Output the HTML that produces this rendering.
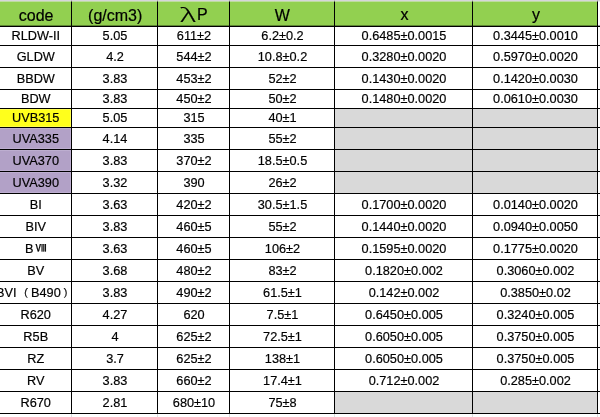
<!DOCTYPE html>
<html lang="en"><head><meta charset="utf-8"><title>table</title>
<style>
html,body{margin:0;padding:0;background:#fff;}
body{width:600px;height:417px;overflow:hidden;position:relative;font-family:"Liberation Sans","Noto Sans CJK SC",sans-serif;color:#000;}
svg{position:absolute;left:0;top:0;display:block;}
.t{position:absolute;text-align:center;white-space:nowrap;font-size:13.7px;overflow:visible;transform:scaleX(0.93);transform-origin:50% 50%;margin-top:-0.1px;-webkit-text-stroke:0.2px #000;}
.h{font-size:16px;transform:none;margin-top:1.2px;margin-left:0.4px;}
.cj{font-family:"IPAGothic","Noto Sans CJK SC",sans-serif;}
</style></head><body>
<svg width="600" height="417" viewBox="0 0 600 417">
<rect x="0" y="0" width="600" height="1.50" fill="#d6d6da"/>
<rect x="0" y="1.50" width="597.50" height="25.00" fill="#92d050"/>
<rect x="0.00" y="108.50" width="71.50" height="19.00" fill="#ffff1c"/>
<rect x="-1.00" y="109.50" width="71.50" height="17.00" fill="none" stroke="#ffff6a" stroke-width="1" stroke-opacity="0.6"/>
<rect x="0.00" y="127.50" width="71.50" height="22.00" fill="#b2a1c7"/>
<rect x="-1.00" y="128.50" width="71.50" height="20.00" fill="none" stroke="#c4b8d6" stroke-width="1" stroke-opacity="0.6"/>
<rect x="0.00" y="149.50" width="71.50" height="22.00" fill="#b2a1c7"/>
<rect x="-1.00" y="150.50" width="71.50" height="20.00" fill="none" stroke="#c4b8d6" stroke-width="1" stroke-opacity="0.6"/>
<rect x="0.00" y="171.50" width="71.50" height="22.00" fill="#b2a1c7"/>
<rect x="-1.00" y="172.50" width="71.50" height="20.00" fill="none" stroke="#c4b8d6" stroke-width="1" stroke-opacity="0.6"/>
<rect x="334.50" y="108.50" width="138.00" height="19.00" fill="#d9d9d9"/>
<rect x="472.50" y="108.50" width="125.00" height="19.00" fill="#d9d9d9"/>
<rect x="334.50" y="127.50" width="138.00" height="22.00" fill="#d9d9d9"/>
<rect x="472.50" y="127.50" width="125.00" height="22.00" fill="#d9d9d9"/>
<rect x="334.50" y="149.50" width="138.00" height="22.00" fill="#d9d9d9"/>
<rect x="472.50" y="149.50" width="125.00" height="22.00" fill="#d9d9d9"/>
<rect x="334.50" y="171.50" width="138.00" height="22.00" fill="#d9d9d9"/>
<rect x="472.50" y="171.50" width="125.00" height="22.00" fill="#d9d9d9"/>
<rect x="334.50" y="391.50" width="138.00" height="22.00" fill="#d9d9d9"/>
<rect x="472.50" y="391.50" width="125.00" height="22.00" fill="#d9d9d9"/>
<line x1="71.50" y1="0" x2="71.50" y2="1.50" stroke="#b8b8b8" stroke-width="1"/>
<line x1="71.50" y1="413.50" x2="71.50" y2="417" stroke="#dcdcdc" stroke-width="1"/>
<line x1="157.50" y1="0" x2="157.50" y2="1.50" stroke="#b8b8b8" stroke-width="1"/>
<line x1="157.50" y1="413.50" x2="157.50" y2="417" stroke="#dcdcdc" stroke-width="1"/>
<line x1="229.50" y1="0" x2="229.50" y2="1.50" stroke="#b8b8b8" stroke-width="1"/>
<line x1="229.50" y1="413.50" x2="229.50" y2="417" stroke="#dcdcdc" stroke-width="1"/>
<line x1="334.50" y1="0" x2="334.50" y2="1.50" stroke="#b8b8b8" stroke-width="1"/>
<line x1="334.50" y1="413.50" x2="334.50" y2="417" stroke="#dcdcdc" stroke-width="1"/>
<line x1="472.50" y1="0" x2="472.50" y2="1.50" stroke="#b8b8b8" stroke-width="1"/>
<line x1="472.50" y1="413.50" x2="472.50" y2="417" stroke="#dcdcdc" stroke-width="1"/>
<line x1="597.50" y1="0" x2="597.50" y2="1.50" stroke="#b8b8b8" stroke-width="1"/>
<line x1="597.50" y1="413.50" x2="597.50" y2="417" stroke="#dcdcdc" stroke-width="1"/>
<rect x="0" y="25.65" width="600" height="0.5" fill="#000"/>
<line x1="0" y1="26.50" x2="600" y2="26.50" stroke="#000" stroke-width="1.00"/>
<line x1="0" y1="45.50" x2="600" y2="45.50" stroke="#000" stroke-width="1.00"/>
<line x1="0" y1="67.50" x2="600" y2="67.50" stroke="#000" stroke-width="1.00"/>
<line x1="0" y1="89.50" x2="600" y2="89.50" stroke="#000" stroke-width="1.00"/>
<line x1="0" y1="108.50" x2="600" y2="108.50" stroke="#000" stroke-width="1.00"/>
<line x1="0" y1="127.50" x2="600" y2="127.50" stroke="#000" stroke-width="1.00"/>
<line x1="0" y1="149.50" x2="600" y2="149.50" stroke="#000" stroke-width="1.00"/>
<line x1="0" y1="171.50" x2="600" y2="171.50" stroke="#000" stroke-width="1.00"/>
<line x1="0" y1="193.50" x2="600" y2="193.50" stroke="#000" stroke-width="1.00"/>
<line x1="0" y1="215.50" x2="600" y2="215.50" stroke="#000" stroke-width="1.00"/>
<line x1="0" y1="237.50" x2="600" y2="237.50" stroke="#000" stroke-width="1.00"/>
<line x1="0" y1="259.50" x2="600" y2="259.50" stroke="#000" stroke-width="1.00"/>
<line x1="0" y1="281.50" x2="600" y2="281.50" stroke="#000" stroke-width="1.00"/>
<line x1="0" y1="303.50" x2="600" y2="303.50" stroke="#000" stroke-width="1.00"/>
<line x1="0" y1="325.50" x2="600" y2="325.50" stroke="#000" stroke-width="1.00"/>
<line x1="0" y1="347.50" x2="600" y2="347.50" stroke="#000" stroke-width="1.00"/>
<line x1="0" y1="369.50" x2="600" y2="369.50" stroke="#000" stroke-width="1.00"/>
<line x1="0" y1="391.50" x2="600" y2="391.50" stroke="#000" stroke-width="1.00"/>
<line x1="0" y1="413.50" x2="600" y2="413.50" stroke="#000" stroke-width="1.00"/>
<line x1="71.50" y1="1.50" x2="71.50" y2="413.50" stroke="#000" stroke-width="1.00"/>
<line x1="157.50" y1="1.50" x2="157.50" y2="413.50" stroke="#000" stroke-width="1.00"/>
<line x1="229.50" y1="1.50" x2="229.50" y2="413.50" stroke="#000" stroke-width="1.00"/>
<line x1="334.50" y1="1.50" x2="334.50" y2="413.50" stroke="#000" stroke-width="1.00"/>
<line x1="472.50" y1="1.50" x2="472.50" y2="413.50" stroke="#000" stroke-width="1.00"/>
<line x1="597.50" y1="1.50" x2="597.50" y2="413.50" stroke="#000" stroke-width="1.00"/>
</svg>
<div class="t h" style="left:0.00px;top:1.50px;width:71.50px;height:25.00px;line-height:25.00px">code</div>
<div class="t h" style="left:71.80px;top:1.50px;width:86.00px;height:25.00px;line-height:25.00px">(g/cm3)</div>
<div class="t h" style="left:179.40px;top:0.20px;height:25.00px;line-height:25.00px;font-size:19.00px;text-align:left;transform:scaleX(1.600);transform-origin:0 50%;font-family:'Noto Sans CJK SC','IPAGothic',sans-serif;font-weight:300">λ</div>
<div class="t h" style="left:196.50px;top:1.10px;height:25.00px;line-height:25.00px;font-size:16.00px;text-align:left;transform:scaleX(1.000);transform-origin:0 50%;">P</div>
<div class="t h" style="left:229.50px;top:1.50px;width:105.00px;height:25.00px;line-height:25.00px">W</div>
<div class="t h" style="left:335.00px;top:1.10px;width:138.00px;height:25.00px;line-height:25.00px">x</div>
<div class="t h" style="left:473.20px;top:1.10px;width:125.00px;height:25.00px;line-height:25.00px">y</div>
<div class="t" style="left:0.00px;top:26.50px;width:71.50px;height:19.00px;line-height:19.00px">RLDW-II</div>
<div class="t" style="left:71.50px;top:26.50px;width:86.00px;height:19.00px;line-height:19.00px">5.05</div>
<div class="t" style="left:157.50px;top:26.50px;width:72.00px;height:19.00px;line-height:19.00px">611±2</div>
<div class="t" style="left:229.50px;top:26.50px;width:105.00px;height:19.00px;line-height:19.00px">6.2±0.2</div>
<div class="t" style="left:334.50px;top:26.50px;width:138.00px;height:19.00px;line-height:19.00px">0.6485±0.0015</div>
<div class="t" style="left:472.50px;top:26.50px;width:125.00px;height:19.00px;line-height:19.00px">0.3445±0.0010</div>
<div class="t" style="left:0.00px;top:45.90px;width:71.50px;height:22.00px;line-height:22.00px">GLDW</div>
<div class="t" style="left:71.50px;top:45.90px;width:86.00px;height:22.00px;line-height:22.00px">4.2</div>
<div class="t" style="left:157.50px;top:45.90px;width:72.00px;height:22.00px;line-height:22.00px">544±2</div>
<div class="t" style="left:229.50px;top:45.90px;width:105.00px;height:22.00px;line-height:22.00px">10.8±0.2</div>
<div class="t" style="left:334.50px;top:45.90px;width:138.00px;height:22.00px;line-height:22.00px">0.3280±0.0020</div>
<div class="t" style="left:472.50px;top:45.90px;width:125.00px;height:22.00px;line-height:22.00px">0.5970±0.0020</div>
<div class="t" style="left:0.00px;top:67.90px;width:71.50px;height:22.00px;line-height:22.00px">BBDW</div>
<div class="t" style="left:71.50px;top:67.90px;width:86.00px;height:22.00px;line-height:22.00px">3.83</div>
<div class="t" style="left:157.50px;top:67.90px;width:72.00px;height:22.00px;line-height:22.00px">453±2</div>
<div class="t" style="left:229.50px;top:67.90px;width:105.00px;height:22.00px;line-height:22.00px">52±2</div>
<div class="t" style="left:334.50px;top:67.90px;width:138.00px;height:22.00px;line-height:22.00px">0.1430±0.0020</div>
<div class="t" style="left:472.50px;top:67.90px;width:125.00px;height:22.00px;line-height:22.00px">0.1420±0.0030</div>
<div class="t" style="left:0.00px;top:89.50px;width:71.50px;height:19.00px;line-height:19.00px">BDW</div>
<div class="t" style="left:71.50px;top:89.50px;width:86.00px;height:19.00px;line-height:19.00px">3.83</div>
<div class="t" style="left:157.50px;top:89.50px;width:72.00px;height:19.00px;line-height:19.00px">450±2</div>
<div class="t" style="left:229.50px;top:89.50px;width:105.00px;height:19.00px;line-height:19.00px">50±2</div>
<div class="t" style="left:334.50px;top:89.50px;width:138.00px;height:19.00px;line-height:19.00px">0.1480±0.0020</div>
<div class="t" style="left:472.50px;top:89.50px;width:125.00px;height:19.00px;line-height:19.00px">0.0610±0.0030</div>
<div class="t" style="left:0.00px;top:108.50px;width:71.50px;height:19.00px;line-height:19.00px">UVB315</div>
<div class="t" style="left:71.50px;top:108.50px;width:86.00px;height:19.00px;line-height:19.00px">5.05</div>
<div class="t" style="left:157.50px;top:108.50px;width:72.00px;height:19.00px;line-height:19.00px">315</div>
<div class="t" style="left:229.50px;top:108.50px;width:105.00px;height:19.00px;line-height:19.00px">40±1</div>
<div class="t" style="left:0.00px;top:127.90px;width:71.50px;height:22.00px;line-height:22.00px">UVA335</div>
<div class="t" style="left:71.50px;top:127.90px;width:86.00px;height:22.00px;line-height:22.00px">4.14</div>
<div class="t" style="left:157.50px;top:127.90px;width:72.00px;height:22.00px;line-height:22.00px">335</div>
<div class="t" style="left:229.50px;top:127.90px;width:105.00px;height:22.00px;line-height:22.00px">55±2</div>
<div class="t" style="left:0.00px;top:149.90px;width:71.50px;height:22.00px;line-height:22.00px">UVA370</div>
<div class="t" style="left:71.50px;top:149.90px;width:86.00px;height:22.00px;line-height:22.00px">3.83</div>
<div class="t" style="left:157.50px;top:149.90px;width:72.00px;height:22.00px;line-height:22.00px">370±2</div>
<div class="t" style="left:229.50px;top:149.90px;width:105.00px;height:22.00px;line-height:22.00px">18.5±0.5</div>
<div class="t" style="left:0.00px;top:171.90px;width:71.50px;height:22.00px;line-height:22.00px">UVA390</div>
<div class="t" style="left:71.50px;top:171.90px;width:86.00px;height:22.00px;line-height:22.00px">3.32</div>
<div class="t" style="left:157.50px;top:171.90px;width:72.00px;height:22.00px;line-height:22.00px">390</div>
<div class="t" style="left:229.50px;top:171.90px;width:105.00px;height:22.00px;line-height:22.00px">26±2</div>
<div class="t" style="left:0.00px;top:193.90px;width:71.50px;height:22.00px;line-height:22.00px">BI</div>
<div class="t" style="left:71.50px;top:193.90px;width:86.00px;height:22.00px;line-height:22.00px">3.63</div>
<div class="t" style="left:157.50px;top:193.90px;width:72.00px;height:22.00px;line-height:22.00px">420±2</div>
<div class="t" style="left:229.50px;top:193.90px;width:105.00px;height:22.00px;line-height:22.00px">30.5±1.5</div>
<div class="t" style="left:334.50px;top:193.90px;width:138.00px;height:22.00px;line-height:22.00px">0.1700±0.0020</div>
<div class="t" style="left:472.50px;top:193.90px;width:125.00px;height:22.00px;line-height:22.00px">0.0140±0.0020</div>
<div class="t" style="left:0.00px;top:215.90px;width:71.50px;height:22.00px;line-height:22.00px">BIV</div>
<div class="t" style="left:71.50px;top:215.90px;width:86.00px;height:22.00px;line-height:22.00px">3.83</div>
<div class="t" style="left:157.50px;top:215.90px;width:72.00px;height:22.00px;line-height:22.00px">460±5</div>
<div class="t" style="left:229.50px;top:215.90px;width:105.00px;height:22.00px;line-height:22.00px">55±2</div>
<div class="t" style="left:334.50px;top:215.90px;width:138.00px;height:22.00px;line-height:22.00px">0.1440±0.0020</div>
<div class="t" style="left:472.50px;top:215.90px;width:125.00px;height:22.00px;line-height:22.00px">0.0940±0.0050</div>
<div class="t" style="left:25.30px;top:237.90px;height:22.00px;line-height:22.00px;font-size:13.70px;text-align:left;transform:scaleX(0.930);transform-origin:0 50%;">B</div>
<div class="t cj" style="left:34.60px;top:237.00px;height:22.00px;line-height:22.00px;font-size:10.50px;text-align:left;transform:scaleX(1.140);transform-origin:0 50%;">Ⅷ</div>
<div class="t" style="left:71.50px;top:237.90px;width:86.00px;height:22.00px;line-height:22.00px">3.63</div>
<div class="t" style="left:157.50px;top:237.90px;width:72.00px;height:22.00px;line-height:22.00px">460±5</div>
<div class="t" style="left:229.50px;top:237.90px;width:105.00px;height:22.00px;line-height:22.00px">106±2</div>
<div class="t" style="left:334.50px;top:237.90px;width:138.00px;height:22.00px;line-height:22.00px">0.1595±0.0020</div>
<div class="t" style="left:472.50px;top:237.90px;width:125.00px;height:22.00px;line-height:22.00px">0.1775±0.0020</div>
<div class="t" style="left:0.00px;top:259.90px;width:71.50px;height:22.00px;line-height:22.00px">BV</div>
<div class="t" style="left:71.50px;top:259.90px;width:86.00px;height:22.00px;line-height:22.00px">3.68</div>
<div class="t" style="left:157.50px;top:259.90px;width:72.00px;height:22.00px;line-height:22.00px">480±2</div>
<div class="t" style="left:229.50px;top:259.90px;width:105.00px;height:22.00px;line-height:22.00px">83±2</div>
<div class="t" style="left:334.50px;top:259.90px;width:138.00px;height:22.00px;line-height:22.00px">0.1820±0.002</div>
<div class="t" style="left:472.50px;top:259.90px;width:125.00px;height:22.00px;line-height:22.00px">0.3060±0.002</div>
<div class="t" style="left:-3.80px;top:281.90px;height:22.00px;line-height:22.00px;font-size:13.70px;text-align:left;transform:scaleX(0.930);transform-origin:0 50%;">BVI</div>
<div class="t cj" style="left:17.70px;top:281.90px;height:22.00px;line-height:22.00px;font-size:10.80px;text-align:left;transform:scaleX(1.000);transform-origin:0 50%;">（</div>
<div class="t" style="left:30.90px;top:281.90px;height:22.00px;line-height:22.00px;font-size:13.70px;text-align:left;transform:scaleX(0.930);transform-origin:0 50%;">B490</div>
<div class="t cj" style="left:63.00px;top:281.90px;height:22.00px;line-height:22.00px;font-size:10.80px;text-align:left;transform:scaleX(1.000);transform-origin:0 50%;">）</div>
<div class="t" style="left:71.50px;top:281.90px;width:86.00px;height:22.00px;line-height:22.00px">3.83</div>
<div class="t" style="left:157.50px;top:281.90px;width:72.00px;height:22.00px;line-height:22.00px">490±2</div>
<div class="t" style="left:229.50px;top:281.90px;width:105.00px;height:22.00px;line-height:22.00px">61.5±1</div>
<div class="t" style="left:334.50px;top:281.90px;width:138.00px;height:22.00px;line-height:22.00px">0.142±0.002</div>
<div class="t" style="left:472.50px;top:281.90px;width:125.00px;height:22.00px;line-height:22.00px">0.3850±0.02</div>
<div class="t" style="left:0.00px;top:303.90px;width:71.50px;height:22.00px;line-height:22.00px">R620</div>
<div class="t" style="left:71.50px;top:303.90px;width:86.00px;height:22.00px;line-height:22.00px">4.27</div>
<div class="t" style="left:157.50px;top:303.90px;width:72.00px;height:22.00px;line-height:22.00px">620</div>
<div class="t" style="left:229.50px;top:303.90px;width:105.00px;height:22.00px;line-height:22.00px">7.5±1</div>
<div class="t" style="left:334.50px;top:303.90px;width:138.00px;height:22.00px;line-height:22.00px">0.6450±0.005</div>
<div class="t" style="left:472.50px;top:303.90px;width:125.00px;height:22.00px;line-height:22.00px">0.3240±0.005</div>
<div class="t" style="left:0.00px;top:325.90px;width:71.50px;height:22.00px;line-height:22.00px">R5B</div>
<div class="t" style="left:71.50px;top:325.90px;width:86.00px;height:22.00px;line-height:22.00px">4</div>
<div class="t" style="left:157.50px;top:325.90px;width:72.00px;height:22.00px;line-height:22.00px">625±2</div>
<div class="t" style="left:229.50px;top:325.90px;width:105.00px;height:22.00px;line-height:22.00px">72.5±1</div>
<div class="t" style="left:334.50px;top:325.90px;width:138.00px;height:22.00px;line-height:22.00px">0.6050±0.005</div>
<div class="t" style="left:472.50px;top:325.90px;width:125.00px;height:22.00px;line-height:22.00px">0.3750±0.005</div>
<div class="t" style="left:0.00px;top:347.90px;width:71.50px;height:22.00px;line-height:22.00px">RZ</div>
<div class="t" style="left:71.50px;top:347.90px;width:86.00px;height:22.00px;line-height:22.00px">3.7</div>
<div class="t" style="left:157.50px;top:347.90px;width:72.00px;height:22.00px;line-height:22.00px">625±2</div>
<div class="t" style="left:229.50px;top:347.90px;width:105.00px;height:22.00px;line-height:22.00px">138±1</div>
<div class="t" style="left:334.50px;top:347.90px;width:138.00px;height:22.00px;line-height:22.00px">0.6050±0.005</div>
<div class="t" style="left:472.50px;top:347.90px;width:125.00px;height:22.00px;line-height:22.00px">0.3750±0.005</div>
<div class="t" style="left:0.00px;top:369.90px;width:71.50px;height:22.00px;line-height:22.00px">RV</div>
<div class="t" style="left:71.50px;top:369.90px;width:86.00px;height:22.00px;line-height:22.00px">3.83</div>
<div class="t" style="left:157.50px;top:369.90px;width:72.00px;height:22.00px;line-height:22.00px">660±2</div>
<div class="t" style="left:229.50px;top:369.90px;width:105.00px;height:22.00px;line-height:22.00px">17.4±1</div>
<div class="t" style="left:334.50px;top:369.90px;width:138.00px;height:22.00px;line-height:22.00px">0.712±0.002</div>
<div class="t" style="left:472.50px;top:369.90px;width:125.00px;height:22.00px;line-height:22.00px">0.285±0.002</div>
<div class="t" style="left:0.00px;top:391.90px;width:71.50px;height:22.00px;line-height:22.00px">R670</div>
<div class="t" style="left:71.50px;top:391.90px;width:86.00px;height:22.00px;line-height:22.00px">2.81</div>
<div class="t" style="left:157.50px;top:391.90px;width:72.00px;height:22.00px;line-height:22.00px">680±10</div>
<div class="t" style="left:229.50px;top:391.90px;width:105.00px;height:22.00px;line-height:22.00px">75±8</div>
</body></html>
